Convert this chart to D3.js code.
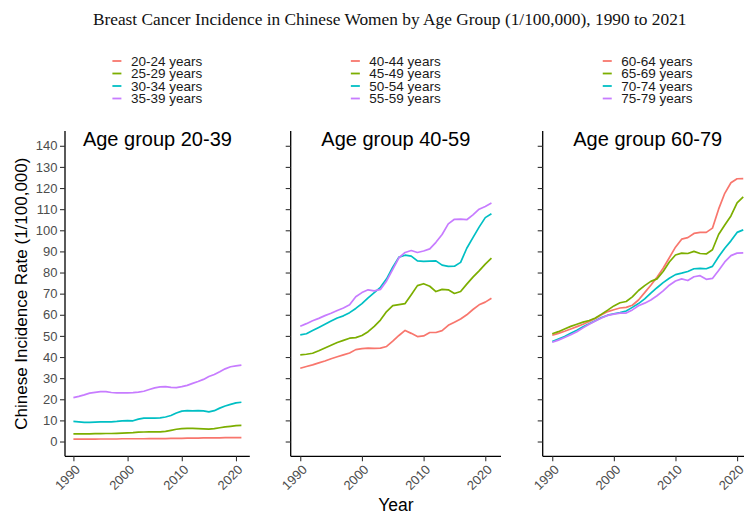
<!DOCTYPE html>
<html>
<head>
<meta charset="utf-8">
<script src="https://cdn.jsdelivr.net/npm/d3@7"></script>
<style>
  body { margin: 0; background: #ffffff; }
  svg { display: block; font-family: "Liberation Sans", Arial, Helvetica, sans-serif; }
</style>
</head>
<body>
<svg id="chart" width="744" height="513"></svg>
<script>
// ---- data -------------------------------------------------------------
const years = [1990, 1991, 1992, 1993, 1994, 1995, 1996, 1997, 1998, 1999,
               2000, 2001, 2002, 2003, 2004, 2005, 2006, 2007, 2008, 2009,
               2010, 2011, 2012, 2013, 2014, 2015, 2016, 2017, 2018, 2019,
               2020, 2021];

const yTicks = [0, 10, 20, 30, 40, 50, 60, 70, 80, 90, 100, 110, 120, 130, 140];
const xTicks = [1990, 2000, 2010, 2020];

const chartTitle = "Breast Cancer Incidence in Chinese Women by Age Group (1/100,000), 1990 to 2021";
const panelTitles = ["Age group 20-39", "Age group 40-59", "Age group 60-79"];
const groupLabels = [
  ["20-24 years", "25-29 years", "30-34 years", "35-39 years"],
  ["40-44 years", "45-49 years", "50-54 years", "55-59 years"],
  ["60-64 years", "65-69 years", "70-74 years", "75-79 years"]
];
const seriesColors = ["#F8766D", "#7CAE00", "#00BFC4", "#C77CFF"];

// incidence per 100,000, one value per year
const age20_24 = [1.1, 1.1, 1.1, 1.1, 1.1, 1.2, 1.2, 1.2, 1.2, 1.3, 1.3, 1.3, 1.3, 1.3, 1.4, 1.4,
                  1.4, 1.4, 1.5, 1.5, 1.5, 1.6, 1.6, 1.6, 1.7, 1.7, 1.7, 1.7, 1.8, 1.8, 1.8, 1.8];
const age25_29 = [3.6, 3.6, 3.6, 3.6, 3.7, 3.7, 3.8, 3.8, 3.9, 4.0, 4.1, 4.2, 4.4, 4.5, 4.6, 4.6,
                  4.6, 4.8, 5.3, 5.8, 6.1, 6.2, 6.2, 6.1, 6.0, 5.9, 6.1, 6.5, 6.9, 7.2, 7.5, 7.6];
const age30_34 = [9.5, 9.3, 9.1, 9.1, 9.2, 9.3, 9.3, 9.3, 9.5, 9.8, 9.9, 9.8, 10.6, 11.1, 11.1, 11.1,
                  11.2, 11.6, 12.3, 13.5, 14.4, 14.6, 14.5, 14.6, 14.5, 14.0, 14.6, 15.8, 16.8, 17.6, 18.3, 18.6];
const age35_39 = [20.8, 21.4, 22.1, 22.9, 23.3, 23.6, 23.6, 23.2, 23.0, 23.0, 23.0, 23.1, 23.4, 23.8, 24.6, 25.4,
                  25.9, 26.0, 25.6, 25.5, 26.0, 26.6, 27.5, 28.4, 29.4, 30.8, 31.7, 33.0, 34.4, 35.4, 35.8, 36.2];

const age40_44 = [34.7, 35.5, 36.3, 37.2, 38.1, 39.2, 40.1, 41.0, 41.9, 43.5, 44.0, 44.2, 44.1, 44.2, 45.0, 47.5,
                  50.2, 52.6, 51.2, 49.7, 50.0, 51.6, 51.6, 52.5, 55.0, 56.5, 58.0, 60.0, 62.5, 64.7, 66.0, 67.8];
const age45_49 = [41.0, 41.3, 41.8, 43.0, 44.3, 45.6, 46.9, 47.9, 48.9, 49.2, 50.2, 52.0, 54.5, 57.5, 61.5, 64.3,
                  64.8, 65.3, 69.5, 73.8, 74.7, 73.5, 71.0, 72.0, 71.8, 70.1, 71.0, 74.5, 77.8, 80.8, 84.0, 86.8];
const age50_54 = [50.5, 51.0, 52.5, 54.0, 55.5, 57.0, 58.5, 59.5, 61.0, 63.0, 65.3, 68.0, 70.5, 73.0, 77.0, 82.5,
                  87.3, 88.2, 87.8, 85.5, 85.3, 85.4, 85.5, 83.5, 82.9, 83.0, 84.8, 91.5, 96.5, 101.5, 106.0, 107.8];
const age55_59 = [54.6, 55.8, 57.2, 58.3, 59.6, 60.7, 62.0, 63.2, 64.7, 68.5, 70.5, 71.8, 71.3, 72.0, 76.0, 81.5,
                  87.0, 89.5, 90.4, 89.5, 90.2, 91.2, 94.3, 98.0, 103.0, 105.2, 105.3, 105.0, 107.3, 110.0, 111.3, 112.9];

const age60_64 = [50.3, 51.2, 52.2, 53.3, 54.4, 55.5, 56.8, 58.2, 60.0, 61.5, 62.4, 63.2, 63.5, 64.5, 67.0, 70.5,
                  74.0, 77.8, 82.0, 87.0, 92.0, 95.8, 96.5, 98.5, 99.0, 99.0, 101.0, 110.0, 117.5, 122.5, 124.4, 124.5];
const age65_69 = [51.0, 52.0, 53.3, 54.5, 55.5, 56.5, 57.3, 58.5, 60.3, 62.2, 64.2, 65.7, 66.3, 68.5, 71.5, 73.8,
                  75.8, 77.0, 80.5, 85.0, 88.3, 89.2, 89.0, 90.0, 89.0, 88.8, 90.8, 98.0, 102.5, 106.8, 113.0, 115.8];
const age70_74 = [47.3, 48.5, 49.7, 51.3, 52.7, 54.3, 55.7, 57.2, 58.7, 59.8, 60.5, 61.0, 61.8, 63.5, 65.3, 67.5,
                  70.2, 72.8, 75.2, 77.3, 79.0, 79.7, 80.5, 81.8, 82.0, 81.8, 82.9, 87.5, 91.5, 95.0, 99.0, 100.2];
const age75_79 = [47.0, 48.0, 49.2, 50.5, 52.0, 53.8, 55.5, 57.0, 58.5, 59.7, 60.3, 60.8, 60.8, 62.3, 64.3, 65.5,
                  67.0, 69.0, 71.3, 74.0, 76.0, 77.0, 76.2, 78.0, 78.5, 76.8, 77.2, 81.0, 85.0, 88.0, 89.2, 89.3];

const panelSeries = [
  [age20_24, age25_29, age30_34, age35_39],
  [age40_44, age45_49, age50_54, age55_59],
  [age60_64, age65_69, age70_74, age75_79]
];

// ---- layout -----------------------------------------------------------
const svg = d3.select("#chart");
const plotTop = 131, plotBottom = 456.3;
const panelBounds = [[65, 249.8], [290.7, 501], [542.7, 752.8]];
const xDomain = [1988.45, 2022.55];

const y = d3.scaleLinear().domain([-7, 147]).range([plotBottom, plotTop]);

// main title
const title = svg.append("text")
  .attr("x", 389.7).attr("y", 24.5)
  .attr("text-anchor", "middle")
  .style("font-family", "'Liberation Serif', 'Times New Roman', serif")
  .style("font-size", "17px")
  .attr("fill", "#111")
  .text(chartTitle);
// keep the title at its intended width
const tw = title.node().getComputedTextLength();
title.style("font-size", (17 * 594 / tw).toFixed(2) + "px");

const line = d3.line();

panelBounds.forEach(([left, right], p) => {
  const x = d3.scaleLinear().domain(xDomain).range([left, right]);
  const cx = (left + right) / 2;
  const g = svg.append("g");

  // legend for this panel
  const legendLeft = cx - 45;
  groupLabels[p].forEach((lab, i) => {
    const ly = 61 + i * 12.5;
    g.append("line")
      .attr("x1", legendLeft).attr("x2", legendLeft + 9)
      .attr("y1", ly).attr("y2", ly)
      .attr("stroke", seriesColors[i]).attr("stroke-width", 1.8);
    g.append("text")
      .attr("x", legendLeft + 18.5).attr("y", ly + 4.8)
      .style("font-size", "13.5px")
      .attr("fill", "#1a1a1a")
      .text(lab);
  });

  // panel title
  g.append("text")
    .attr("x", cx).attr("y", 146)
    .attr("text-anchor", "middle")
    .style("font-size", "20px")
    .attr("fill", "#000")
    .text(panelTitles[p]);

  // y axis
  const yAxis = d3.axisLeft(y).tickValues(yTicks).tickSize(5).tickSizeOuter(0).tickPadding(2.5);
  if (p > 0) yAxis.tickFormat("");
  const ya = g.append("g").attr("transform", `translate(${left},0)`).call(yAxis);
  ya.select(".domain").attr("stroke", "#000").attr("stroke-width", 1.3)
    .attr("d", `M0,${plotTop}V${plotBottom}`);
  ya.selectAll(".tick line").attr("stroke", "#333").attr("stroke-width", 1.1);
  ya.selectAll(".tick text").attr("fill", "#4D4D4D").style("font-size", "13px")
    .style("font-family", "'Liberation Sans', Arial, sans-serif");

  // x axis
  const xAxis = d3.axisBottom(x).tickValues(xTicks).tickSize(5).tickSizeOuter(0).tickFormat(d3.format("d"));
  const xa = g.append("g").attr("transform", `translate(0,${plotBottom})`).call(xAxis);
  xa.select(".domain").attr("stroke", "#000").attr("stroke-width", 1.3)
    .attr("d", `M${left},0H${right}`);
  xa.selectAll(".tick line").attr("stroke", "#333").attr("stroke-width", 1.1);
  xa.selectAll(".tick text")
    .attr("fill", "#4D4D4D").style("font-size", "13px")
    .style("font-family", "'Liberation Sans', Arial, sans-serif")
    .attr("x", 0).attr("y", 0).attr("dy", null)
    .attr("text-anchor", "end")
    .attr("transform", "translate(7,14) rotate(-45)");

  // series lines
  panelSeries[p].forEach((vals, i) => {
    const pts = years.map((yr, k) => [x(yr), y(vals[k])]);
    g.append("path")
      .attr("d", line(pts))
      .attr("fill", "none")
      .attr("stroke", seriesColors[i])
      .attr("stroke-width", 1.7)
      .attr("stroke-linejoin", "round")
      .attr("stroke-linecap", "butt");
  });
});

// axis titles
svg.append("text")
  .attr("transform", `translate(27,${(plotTop + plotBottom) / 2}) rotate(-90)`)
  .attr("text-anchor", "middle")
  .style("font-size", "17px")
  .attr("fill", "#000")
  .text("Chinese Incidence Rate (1/100,000)");

svg.append("text")
  .attr("x", (panelBounds[1][0] + panelBounds[1][1]) / 2)
  .attr("y", 511)
  .attr("text-anchor", "middle")
  .style("font-size", "17.5px")
  .attr("fill", "#000")
  .text("Year");
</script>
</body>
</html>
